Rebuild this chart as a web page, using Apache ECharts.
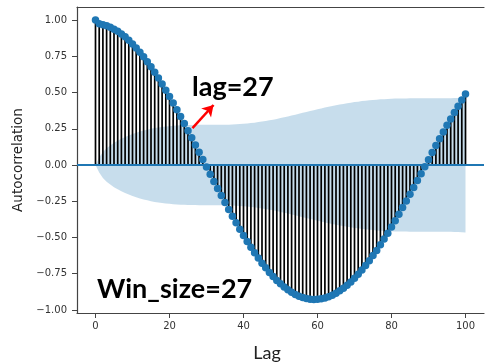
<!DOCTYPE html>
<html><head><meta charset="utf-8">
<script src="https://cdn.jsdelivr.net/npm/echarts@6/dist/echarts.min.js"></script>
<style>html,body{margin:0;padding:0;background:#fff}#c{width:485px;height:363px}</style>
</head><body><div id="c"></div>
<script>
// ---- data ----
const lags = [0,1,2,3,4,5,6,7,8,9,10,11,12,13,14,15,16,17,18,19,20,21,22,23,24,25,26,27,28,29,30,31,32,33,34,35,36,37,38,39,40,41,42,43,44,45,46,47,48,49,50,51,52,53,54,55,56,57,58,59,60,61,62,63,64,65,66,67,68,69,70,71,72,73,74,75,76,77,78,79,80,81,82,83,84,85,86,87,88,89,90,91,92,93,94,95,96,97,98,99,100];
const acfValues = [1.000,0.975,0.968,0.960,0.950,0.937,0.922,0.904,0.884,0.861,0.835,0.808,0.778,0.746,0.712,0.677,0.639,0.600,0.559,0.516,0.472,0.427,0.381,0.334,0.286,0.237,0.188,0.138,0.088,0.038,-0.013,-0.063,-0.113,-0.162,-0.211,-0.259,-0.307,-0.353,-0.399,-0.443,-0.486,-0.527,-0.567,-0.606,-0.642,-0.677,-0.709,-0.741,-0.769,-0.796,-0.820,-0.842,-0.861,-0.878,-0.893,-0.905,-0.914,-0.921,-0.926,-0.928,-0.927,-0.923,-0.917,-0.909,-0.898,-0.884,-0.868,-0.850,-0.830,-0.807,-0.781,-0.754,-0.725,-0.693,-0.660,-0.625,-0.589,-0.551,-0.511,-0.470,-0.428,-0.384,-0.340,-0.294,-0.249,-0.202,-0.155,-0.107,-0.060,-0.012,0.037,0.087,0.134,0.181,0.228,0.274,0.318,0.362,0.406,0.448,0.490];
const confBand = [0,0.051,0.089,0.115,0.135,0.153,0.168,0.181,0.193,0.204,0.214,0.223,0.231,0.238,0.244,0.250,0.255,0.259,0.263,0.266,0.268,0.271,0.272,0.274,0.275,0.276,0.276,0.276,0.277,0.277,0.277,0.277,0.277,0.277,0.277,0.278,0.278,0.279,0.281,0.282,0.284,0.287,0.289,0.292,0.296,0.300,0.304,0.308,0.313,0.318,0.324,0.329,0.335,0.341,0.347,0.353,0.360,0.366,0.372,0.378,0.384,0.390,0.396,0.401,0.407,0.412,0.417,0.421,0.426,0.430,0.434,0.437,0.441,0.443,0.446,0.449,0.451,0.453,0.454,0.456,0.457,0.458,0.458,0.459,0.459,0.460,0.460,0.460,0.460,0.460,0.460,0.460,0.460,0.460,0.460,0.461,0.461,0.462,0.463,0.464,0.465];
const xTickValues = [0,20,40,60,80,100];
const yTickValues = [-1,-0.75,-0.5,-0.25,0,0.25,0.5,0.75,1];
const xAxisTitle = 'Lag';
const yAxisTitle = 'Autocorrelation';
const lagNote = 'lag=27';
const winNote = 'Win_size=27';
const arrowFrom = [26.2, 0.255];
const arrowTo = [31.9, 0.414];

// ---- chart ----
const BLUE = '#1f77b4';
const AX = '#444';
const chart = echarts.init(document.getElementById('c'), null, {renderer: 'canvas'});
const pts = lags.map((l, i) => [l, acfValues[i]]);
const upper = lags.map((l, i) => [l, confBand[i]]);
const lower = lags.map((l, i) => [l, -confBand[i]]);
const fmtY = v => (v < 0 ? '\u2212' : '') + Math.abs(v).toFixed(2);
const tickFont = {fontFamily: 'DejaVu Sans', fontSize: 10, color: '#333'};

chart.setOption({
  animation: false,
  backgroundColor: '#fff',
  grid: {left: 77, top: 7, width: 407, height: 306, containLabel: false},
  xAxis: [{
    type: 'value', min: -5, max: 105, position: 'bottom',
    axisLine: {show: true, onZero: false, lineStyle: {color: AX, width: 1.2}},
    axisTick: {show: true, length: 5, lineStyle: {color: AX}, customValues: xTickValues},
    axisLabel: Object.assign({show: true, margin: 8, customValues: xTickValues, formatter: v => String(v)}, tickFont),
    splitLine: {show: false}
  }, {
    type: 'value', min: -5, max: 105, position: 'top',
    axisLine: {show: true, onZero: false, lineStyle: {color: AX, width: 1.2}},
    axisTick: {show: false}, axisLabel: {show: false}, splitLine: {show: false}
  }],
  yAxis: {
    type: 'value', min: -1.021, max: 1.09,
    axisLine: {show: true, onZero: false, lineStyle: {color: AX, width: 1.2}},
    axisTick: {show: true, length: 5, lineStyle: {color: AX}, customValues: yTickValues},
    axisLabel: Object.assign({show: true, margin: 10, customValues: yTickValues, formatter: fmtY}, tickFont),
    splitLine: {show: false}
  },
  series: [
    {
      type: 'line', data: upper, showSymbol: false, silent: true, z: 1,
      lineStyle: {width: 0}, areaStyle: {color: 'rgba(31,119,180,0.25)', opacity: 1},
      markLine: {
        silent: true, symbol: ['none', 'arrow'], symbolSize: [10, 11],
        label: {show: false},
        lineStyle: {color: '#ff0000', width: 2.5, type: 'solid'},
        data: [[{coord: arrowFrom}, {coord: arrowTo}]]
      }
    },
    {
      type: 'line', data: lower, showSymbol: false, silent: true, z: 1,
      lineStyle: {width: 0}, areaStyle: {color: 'rgba(31,119,180,0.25)', opacity: 1}
    },
    {
      type: 'custom', data: pts, silent: true, z: 2,
      renderItem: (params, api) => {
        const p0 = api.coord([api.value(0), 0]);
        const p1 = api.coord([api.value(0), api.value(1)]);
        return {type: 'line', shape: {x1: p0[0], y1: p0[1], x2: p1[0], y2: p1[1]},
                style: {stroke: '#000', lineWidth: 1.7}};
      }
    },
    {
      type: 'scatter', data: pts, symbol: 'circle', symbolSize: 7.5, z: 4, silent: true,
      itemStyle: {color: BLUE, opacity: 1},
      markLine: {
        silent: true, symbol: 'none', label: {show: false},
        lineStyle: {color: BLUE, width: 1.8, type: 'solid'},
        data: [{yAxis: 0}]
      }
    }
  ],
  graphic: [
    {type: 'text', x: 18, y: 160, rotation: Math.PI / 2, silent: true,
     style: {text: yAxisTitle, fontFamily: 'DejaVu Sans', fontSize: 13.5, fill: '#222', align: 'center', verticalAlign: 'middle'}},
    {type: 'text', x: 267, y: 353, silent: true,
     style: {text: xAxisTitle, fontFamily: 'Lato', fontSize: 18, fill: '#222', align: 'center', verticalAlign: 'middle'}},
    {type: 'text', x: 192, y: 87, silent: true, z: 10,
     style: {text: lagNote, fontFamily: 'Lato', fontWeight: 'bold', fontSize: 27, fill: '#000', align: 'left', verticalAlign: 'middle'}},
    {type: 'text', x: 97, y: 289, silent: true, z: 10,
     style: {text: winNote, fontFamily: 'Lato', fontWeight: 'bold', fontSize: 27, fill: '#000', align: 'left', verticalAlign: 'middle'}}
  ]
});
</script></body></html>
